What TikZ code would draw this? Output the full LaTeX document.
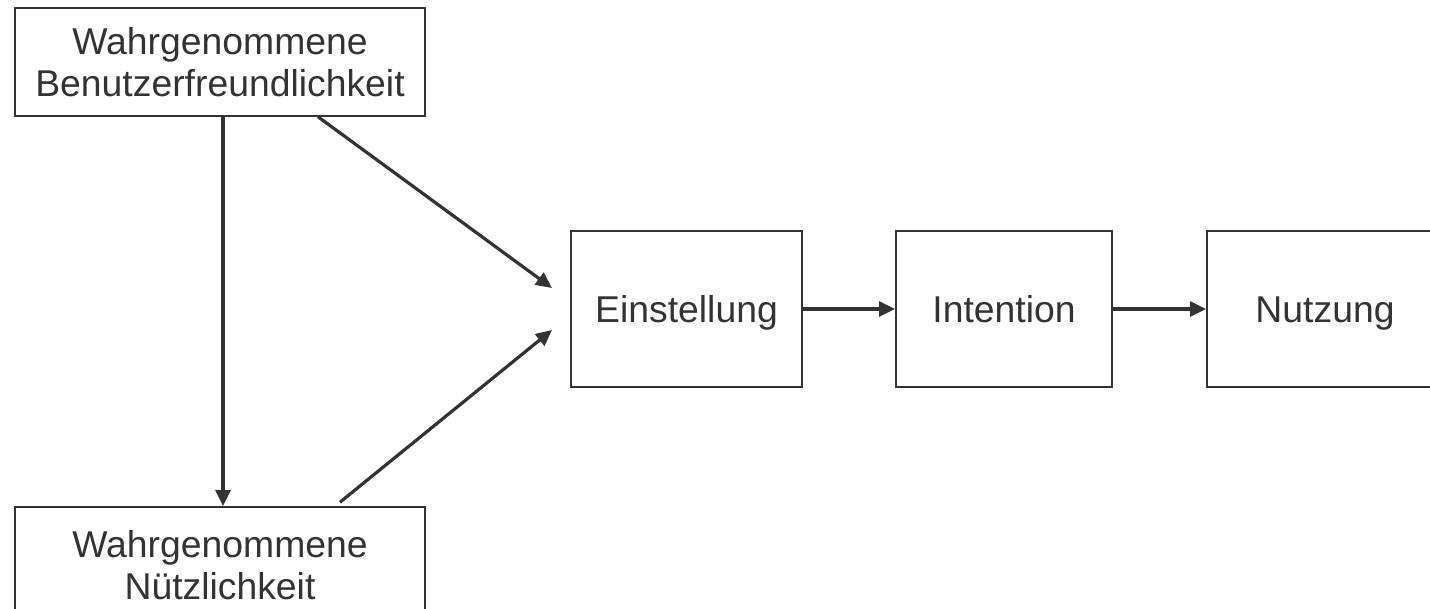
\documentclass[tikz,border=0pt]{standalone}
\usepackage{fontspec}
\setmainfont{Liberation Sans}
\usepackage{xcolor}
\usetikzlibrary{arrows.meta,positioning,calc}
\definecolor{tamgray}{HTML}{333333}

\begin{document}
\begin{tikzpicture}[
  x=0.75pt, y=-0.75pt,
  block/.style={draw=tamgray, line width=1.2pt, text=tamgray, align=center, inner sep=0pt,
    font=\fontsize{28}{31}\selectfont},
  oneline/.style={block, text height=20pt, text depth=0pt, minimum height=117pt},
  bedge/.style={draw=tamgray, line width=2.4pt, -{Triangle[length=12pt,width=11pt]}}
]
\path[use as bounding box, clip] (0,0) rectangle (1430,609);
\node[block, minimum width=307.5pt, minimum height=81pt] (ben) at (220,62) {Wahrgenommene\\Benutzerfreundlichkeit};
\node[block, minimum width=307.5pt, minimum height=87pt] (nuetz) at (220,565) {Wahrgenommene\\Nützlichkeit};
\node[oneline, minimum width=173pt] (einst) at (686.5,309) {Einstellung};
\node[oneline, minimum width=162pt] (inten) at (1004,309) {Intention};
\node[oneline, minimum width=177pt] (nutz) at (1325,309) {Nutzung};
\coordinate (einA) at (552,288);
\coordinate (einB) at (552,330);
\draw[bedge] ($(ben.south)+(3,0)$) -- ($(nuetz.north)+(3,0)$);
\draw[bedge] ($(ben.south)+(98,0)$) -- (einA);
\draw[bedge] ($(nuetz.north)+(120,-4)$) -- (einB);
\draw[bedge] (einst) -- (inten);
\draw[bedge] (inten) -- (nutz);
\end{tikzpicture}
\end{document}
